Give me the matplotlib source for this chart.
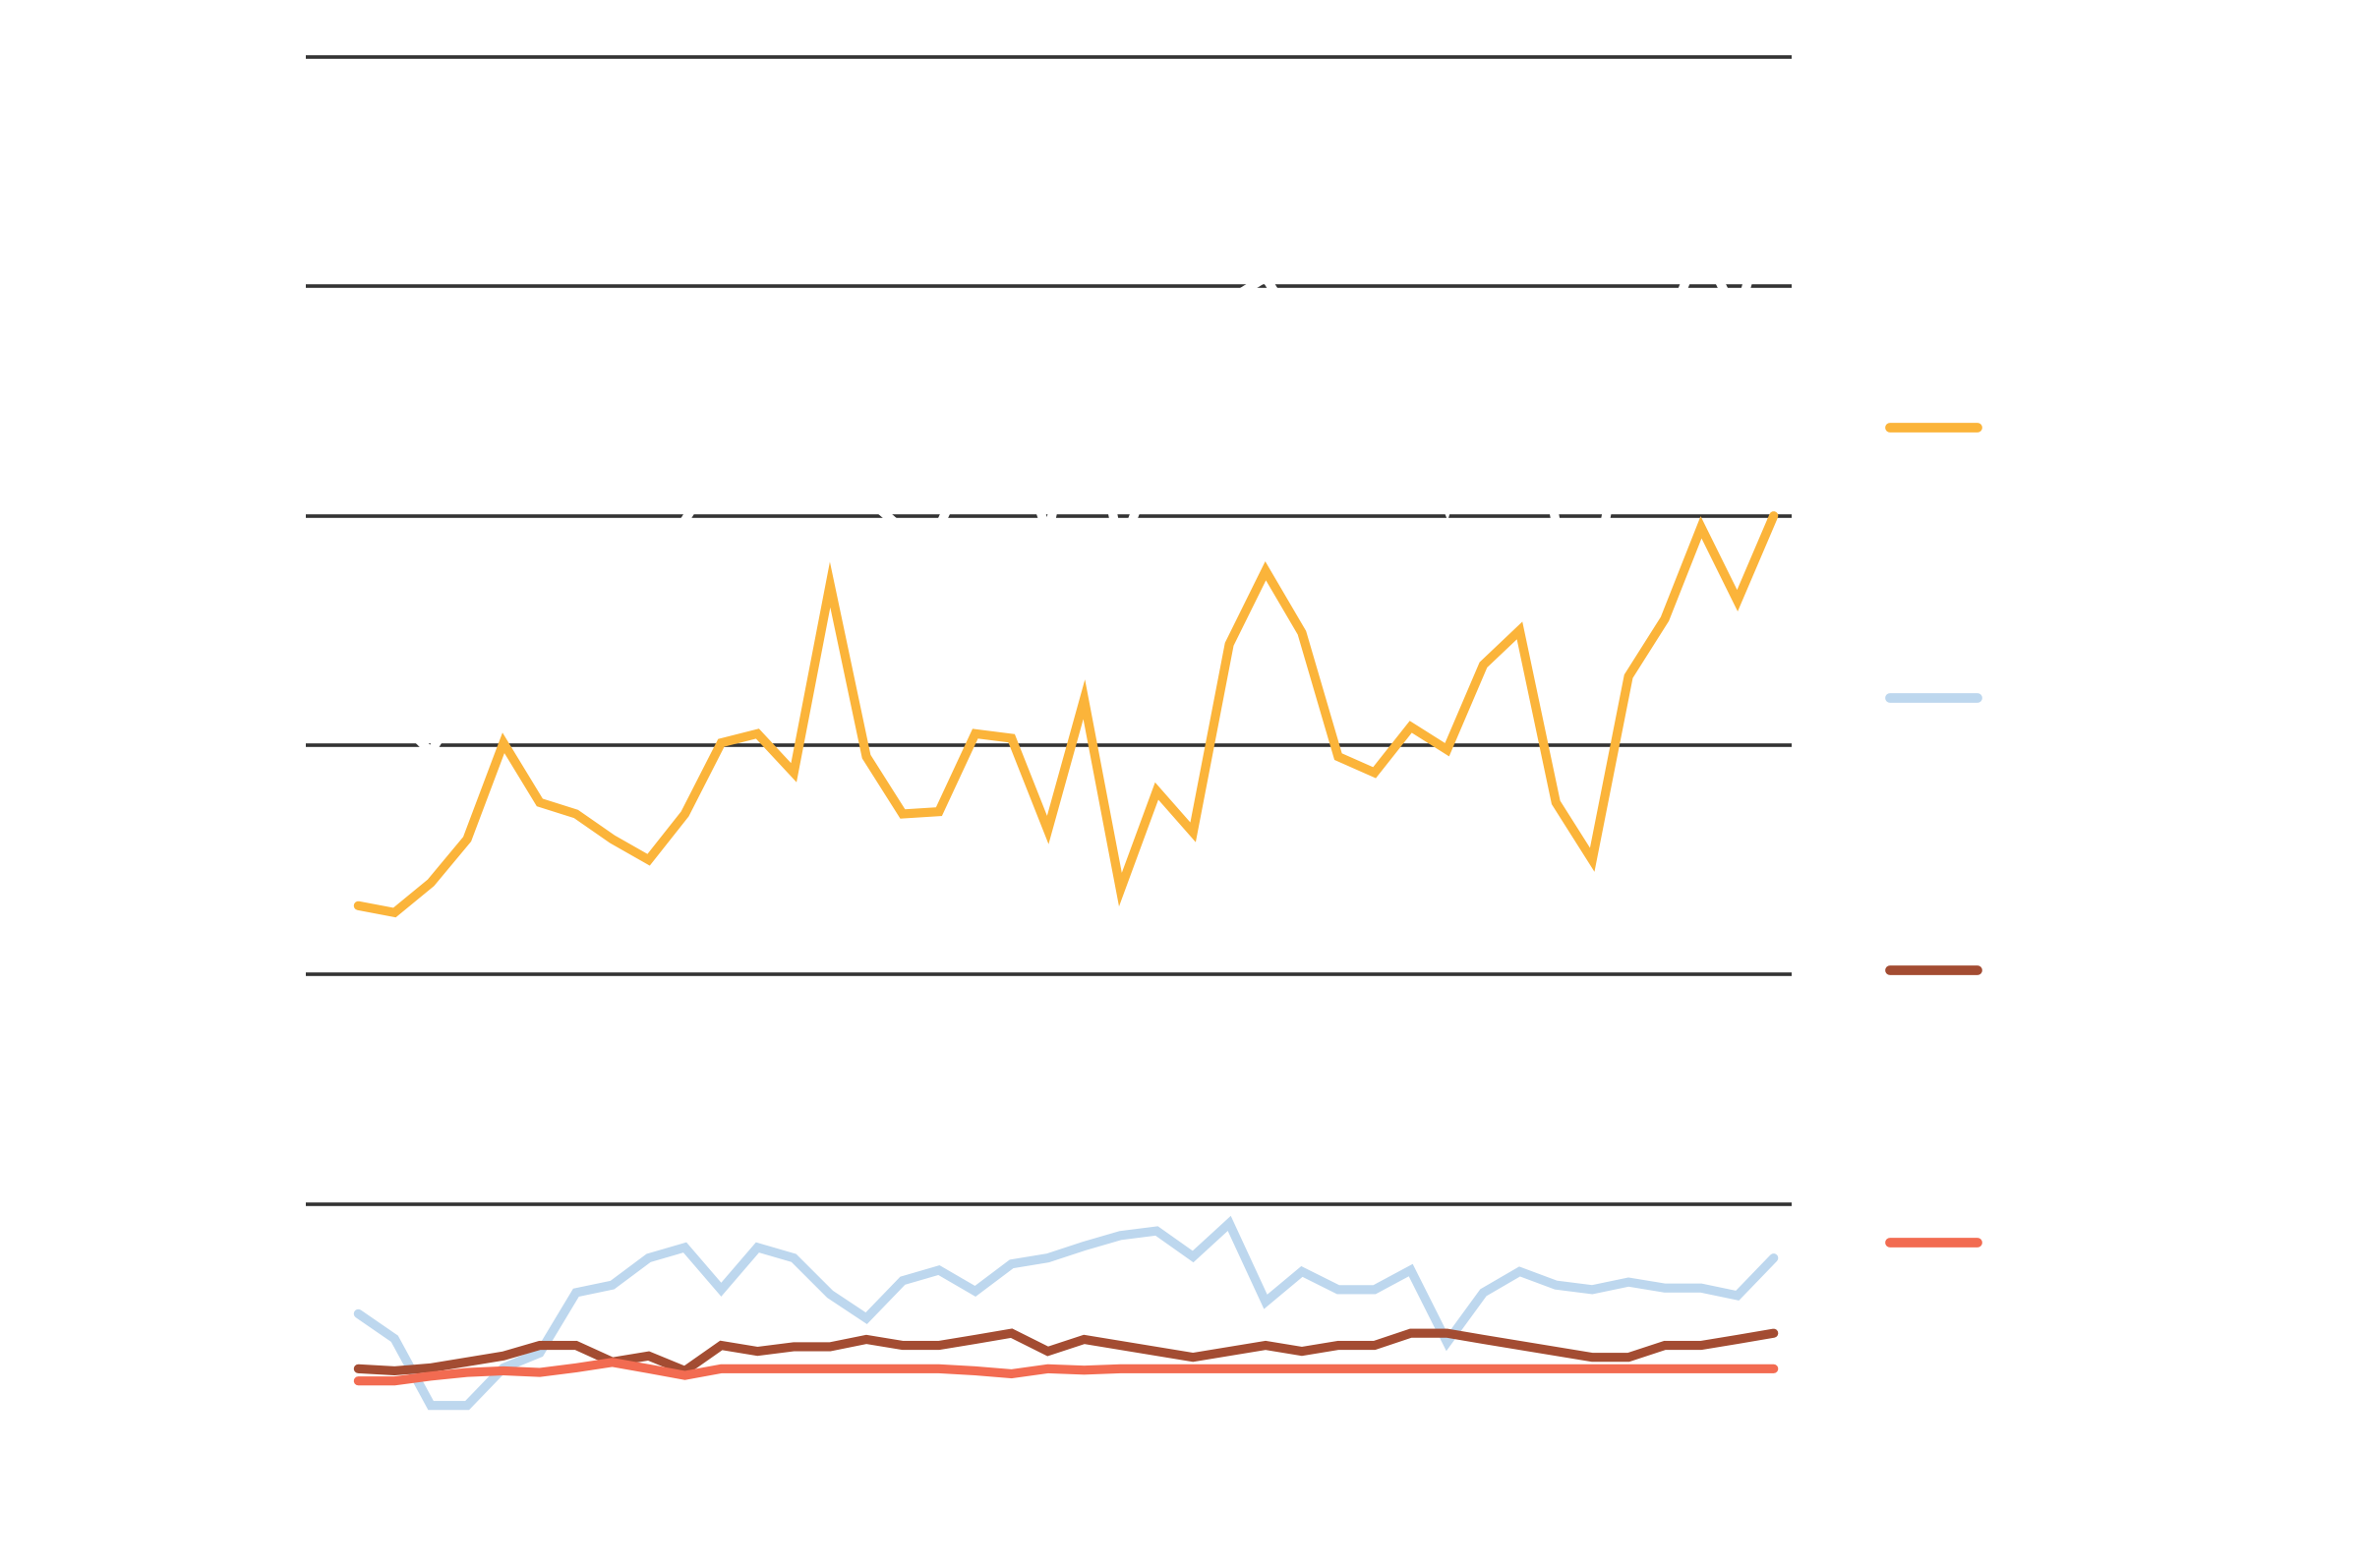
import numpy as np
import matplotlib
matplotlib.use("Agg")
import matplotlib.pyplot as plt
from matplotlib.lines import Line2D

# ================================================
# DATA
# ================================================
periods = list(range(40))

yellow = [230, 227, 240, 259, 301, 275, 270, 259, 250, 270,
          301, 305, 288, 370, 295, 270, 271, 305, 303, 263,
          320, 237, 280, 262, 344, 376, 349, 295, 288, 308,
          298, 335, 350, 275, 250, 330, 355, 395, 363, 400]

blue = [52.1, 41.2, 12.1, 12.1, 28.5, 35.0, 61.3, 64.6, 76.4, 81.0,
        62.6, 81.0, 76.4, 60.6, 50.1, 66.5, 71.1, 61.9, 73.8, 76.4,
        81.6, 86.2, 88.2, 77.0, 91.5, 57.3, 70.5, 62.6, 62.6, 71.1,
        39.6, 61.3, 70.5, 64.6, 62.6, 65.9, 63.3, 63.3, 60.0, 76.4]

brown = [28.1, 27.2, 28.5, 31.1, 33.7, 38.3, 38.3, 31.1, 33.7, 27.2,
         38.3, 35.7, 37.7, 37.7, 40.9, 38.3, 38.3, 40.9, 43.6, 35.7,
         40.9, 38.3, 35.7, 33.1, 35.7, 38.3, 35.7, 38.3, 38.3, 43.6,
         43.6, 40.9, 38.3, 35.7, 33.1, 33.1, 38.3, 38.3, 40.9, 43.6]

red = [22.8, 22.8, 24.9, 26.5, 27.2, 26.5, 28.5, 30.9, 28.1, 25.2,
       28.1, 28.1, 28.1, 28.1, 28.1, 28.1, 28.1, 27.2, 25.9, 28.1,
       27.5, 28.1, 28.1, 28.1, 28.1, 28.1, 28.1, 28.1, 28.1, 28.1,
       28.1, 28.1, 28.1, 28.1, 28.1, 28.1, 28.1, 28.1, 28.1, 28.1]

# white series, only visible where it cuts the gridlines
total = [327, 313, 297, 323, 384, 369, 392, 380, 382, 398,
         424, 444, 424, 480, 408, 394, 395, 430, 440, 392,
         464, 384, 427, 406, 494, 504, 478, 418, 411, 445,
         404, 460, 481, 397, 368, 451, 479, 519, 486, 542]

grid_values = [100, 200, 300, 400, 500, 600]

# ================================================
# STYLE
# ================================================
c_yellow = "#FBB43A"
c_blue = "#BDD7EE"
c_brown = "#A34C32"
c_red = "#F26B51"
c_grid = "#333333"
lw = 6.6

fig = plt.figure(figsize=(24.01, 15.95), dpi=100)
fig.patch.set_facecolor("white")
ax = fig.add_axes([0.12946, 0.02745, 0.62947, 0.9654])

ax.set_xlim(-1.45, 39.5)
ax.set_ylim(-40, 620)

for s in ax.spines.values():
    s.set_visible(False)

ax.set_yticks(grid_values)
ax.set_yticklabels([str(v) for v in grid_values], color="white", fontsize=18)
ax.tick_params(axis="y", length=0, pad=4)
ax.set_xticks([])
ax.grid(axis="y", color=c_grid, linewidth=2.6)
ax.set_axisbelow(True)

line_kw = dict(linewidth=lw, solid_capstyle="round", solid_joinstyle="miter")
ax.plot(periods, total, color="white", **line_kw)
ax.plot(periods, yellow, color=c_yellow, **line_kw)
ax.plot(periods, blue, color=c_blue, **line_kw)
ax.plot(periods, brown, color=c_brown, **line_kw)
ax.plot(periods, red, color=c_red, **line_kw)

# ================================================
# LEGEND (handles only, labels are white in the original)
# ================================================
legend_y = [0.7274, 0.5547, 0.3810, 0.2073]
legend_c = [c_yellow, c_blue, c_brown, c_red]
for yy, cc in zip(legend_y, legend_c):
    fig.add_artist(Line2D([0.8004, 0.8374], [yy, yy], color=cc,
                          linewidth=7.0, solid_capstyle="round",
                          transform=fig.transFigure))

fig.savefig("out.png", dpi=100, facecolor="white")
